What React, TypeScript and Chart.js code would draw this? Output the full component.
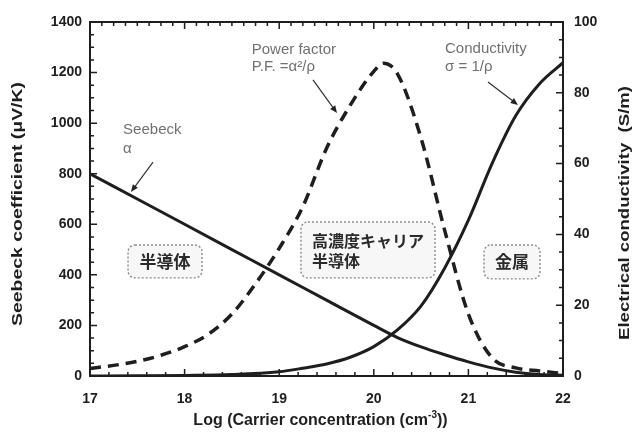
import React, { useEffect, useRef } from "react";
import { Chart, registerables } from "chart.js";

Chart.register(...registerables);

// ---- data ----
const xTicks = [17, 18, 19, 20, 21, 22];
const seebeckTicks = [0, 200, 400, 600, 800, 1000, 1200, 1400];
const conductivityTicks = [0, 20, 40, 60, 80, 100];

const seebeckX = [17, 17.5, 18, 18.5, 19, 19.5, 20, 20.25, 20.5, 20.75, 21, 21.25, 21.5, 21.75, 22];
const seebeckY = [800, 700, 600, 500, 400, 300, 200, 152, 115, 84, 56, 32, 15, 6, 3];

const powerFactorX = [17, 17.25, 17.5, 17.75, 18, 18.25, 18.5, 18.75, 19, 19.25, 19.5, 19.75, 20, 20.1, 20.25, 20.5, 20.75, 21, 21.25, 21.5, 21.75, 22];
const powerFactorY = [30, 42, 58, 82, 116, 165, 245, 365, 505, 670, 900, 1070, 1205, 1237, 1195, 940, 575, 245, 72, 32, 20, 10];

const conductivityX = [17, 17.5, 18, 18.5, 19, 19.25, 19.5, 19.75, 20, 20.25, 20.5, 20.75, 21, 21.25, 21.5, 21.75, 22];
const conductivityY = [0, 0.05, 0.15, 0.4, 1.2, 2.2, 3.4, 5.3, 8.3, 13, 19.8, 30.5, 44, 60, 73.5, 82.5, 88.5];

const leftTitle = "Seebeck coefficient (μV/K)";
const rightTitle = "Electrical conductivity  (S/m)";
const xTitleMain = "Log (Carrier concentration (cm";
const xTitleSup = "-3";
const xTitleEnd = "))";

const boxLabels = ["半導体", "高濃度キャリア", "半導体", "金属"];

const INK = "#1e1e1e";
const GRAY = "#707070";
const SANS = "'Liberation Sans', Arial, sans-serif";
const CJK = "'Noto Sans CJK JP', sans-serif";

function toPts(xs: number[], ys: number[]) {
  return xs.map((x, i) => ({ x, y: ys[i] }));
}

function arrow(ctx: CanvasRenderingContext2D, x1: number, y1: number, x2: number, y2: number) {
  const ang = Math.atan2(y2 - y1, x2 - x1);
  const head = 8;
  ctx.save();
  ctx.strokeStyle = "#333";
  ctx.fillStyle = "#222";
  ctx.lineWidth = 1.2;
  ctx.beginPath();
  ctx.moveTo(x1, y1);
  ctx.lineTo(x2 - Math.cos(ang) * head * 0.8, y2 - Math.sin(ang) * head * 0.8);
  ctx.stroke();
  ctx.beginPath();
  ctx.moveTo(x2, y2);
  ctx.lineTo(x2 - head * Math.cos(ang - 0.4), y2 - head * Math.sin(ang - 0.4));
  ctx.lineTo(x2 - head * Math.cos(ang + 0.4), y2 - head * Math.sin(ang + 0.4));
  ctx.closePath();
  ctx.fill();
  ctx.restore();
}

function roundBox(ctx: CanvasRenderingContext2D, x1: number, y1: number, x2: number, y2: number) {
  const r = 7;
  ctx.save();
  ctx.beginPath();
  ctx.roundRect(x1, y1, x2 - x1, y2 - y1, r);
  ctx.fillStyle = "#f7f7f7";
  ctx.fill();
  ctx.setLineDash([2, 2]);
  ctx.lineWidth = 1.4;
  ctx.strokeStyle = "#8a8a8a";
  ctx.stroke();
  ctx.restore();
}

const decorPlugin = {
  id: "decor",
  afterDatasetsDraw(chart: any) {
    const ctx: CanvasRenderingContext2D = chart.ctx;
    const xs = chart.scales.x;
    const ys = chart.scales.y;
    const X = (v: number) => xs.getPixelForValue(v);
    const Y = (v: number) => ys.getPixelForValue(v);

    // annotation labels
    ctx.save();
    ctx.fillStyle = GRAY;
    ctx.font = `15px ${SANS}`;
    ctx.textAlign = "left";
    ctx.textBaseline = "middle";
    ctx.fillText("Seebeck", X(17.35), Y(973));
    ctx.fillText("α", X(17.35), Y(898));
    ctx.fillText("Power factor", X(18.71), Y(1289));
    ctx.fillText("P.F. =α²/ρ", X(18.71), Y(1222));
    ctx.fillText("Conductivity", X(20.753), Y(1293));
    ctx.fillText("σ = 1/ρ", X(20.753), Y(1222));
    ctx.restore();

    arrow(ctx, X(17.666), Y(846), X(17.433), Y(728));
    arrow(ctx, X(19.357), Y(1171), X(19.611), Y(1040));
    arrow(ctx, X(21.207), Y(1163), X(21.524), Y(1072));

    // region boxes
    roundBox(ctx, X(17.402), Y(518), X(18.184), Y(388));
    roundBox(ctx, X(19.23), Y(609), X(20.647), Y(388));
    roundBox(ctx, X(21.165), Y(518), X(21.757), Y(384));
    ctx.save();
    ctx.fillStyle = "#2a2a2a";
    ctx.textBaseline = "middle";
    ctx.textAlign = "center";
    ctx.font = `bold 17px ${CJK}`;
    ctx.fillText(boxLabels[0], (X(17.402) + X(18.184)) / 2, (Y(518) + Y(388)) / 2);
    ctx.fillText(boxLabels[3], (X(21.165) + X(21.757)) / 2, (Y(518) + Y(384)) / 2);
    ctx.font = `bold 16px ${CJK}`;
    ctx.textAlign = "left";
    ctx.fillText(boxLabels[1], X(19.23) + 11, Y(609) + 19);
    ctx.fillText(boxLabels[2], X(19.23) + 11, Y(609) + 39);
    ctx.restore();
  },
  afterDraw(chart: any) {
    const ctx: CanvasRenderingContext2D = chart.ctx;
    const { left, right, top, bottom } = chart.chartArea;
    const xs = chart.scales.x;
    const ys = chart.scales.y;
    const y2 = chart.scales.y2;

    ctx.save();
    ctx.strokeStyle = INK;
    ctx.lineWidth = 1.5;
    // inward ticks
    ctx.beginPath();
    for (let i = 0; i <= 25; i++) {
      const v = 17 + i * 0.2;
      const px = xs.getPixelForValue(v);
      const len = i % 5 === 0 ? 7 : 4;
      ctx.moveTo(px, bottom);
      ctx.lineTo(px, bottom - len);
    }
    for (let i = 0; i <= 40; i++) {
      const v = 17 + i * 0.125;
      const px = xs.getPixelForValue(v);
      const len = i % 8 === 0 ? 7 : 4;
      ctx.moveTo(px, top);
      ctx.lineTo(px, top + len);
    }
    for (let i = 0; i <= 28; i++) {
      const v = i * 50;
      const py = ys.getPixelForValue(v);
      const len = i % 4 === 0 ? 7 : 4;
      ctx.moveTo(left, py);
      ctx.lineTo(left + len, py);
    }
    for (let i = 0; i <= 20; i++) {
      const v = i * 5;
      const py = y2.getPixelForValue(v);
      const len = i % 4 === 0 ? 7 : 4;
      ctx.moveTo(right, py);
      ctx.lineTo(right - len, py);
    }
    ctx.stroke();
    // frame
    ctx.lineWidth = 2;
    ctx.strokeRect(left, top, right - left, bottom - top);

    // axis titles
    ctx.fillStyle = INK;
    ctx.font = `bold 15px ${SANS}`;
    ctx.textBaseline = "middle";
    ctx.textAlign = "center";

    const drawVertical = (text: string, cx: number, cy: number, targetLen: number) => {
      ctx.save();
      ctx.translate(cx, cy);
      ctx.rotate(-Math.PI / 2);
      const w = ctx.measureText(text).width;
      ctx.scale(targetLen / w, 1);
      ctx.fillText(text, 0, 0);
      ctx.restore();
    };
    drawVertical(leftTitle, 18, 204, 244);
    drawVertical(rightTitle, 625, 213, 254);

    // x title with superscript
    ctx.textAlign = "left";
    ctx.font = `bold 16px ${SANS}`;
    const w1 = ctx.measureText(xTitleMain).width;
    ctx.font = `bold 10px ${SANS}`;
    const w2 = ctx.measureText(xTitleSup).width;
    ctx.font = `bold 16px ${SANS}`;
    const w3 = ctx.measureText(xTitleEnd).width;
    const total = w1 + w2 + w3;
    const cx = (left + right) / 2 - 6;
    const x0 = cx - total / 2;
    const ty = 421;
    ctx.fillText(xTitleMain, x0, ty);
    ctx.font = `bold 10px ${SANS}`;
    ctx.fillText(xTitleSup, x0 + w1, ty - 6);
    ctx.font = `bold 16px ${SANS}`;
    ctx.fillText(xTitleEnd, x0 + w1 + w2, ty);
    ctx.restore();
  },
};

export default function App() {
  const ref = useRef<HTMLCanvasElement | null>(null);

  useEffect(() => {
    document.body.style.margin = "0";
    const canvas = ref.current;
    if (!canvas) return;
    const tickFont = { family: SANS, size: 14, weight: "bold" as const };
    const plain = (v: any) => String(v);
    const chart = new Chart(canvas, {
      type: "line",
      data: {
        datasets: [
          {
            label: "Seebeck",
            data: toPts(seebeckX, seebeckY),
            borderColor: INK,
            borderWidth: 3,
            pointRadius: 0,
            cubicInterpolationMode: "monotone",
            yAxisID: "y",
          },
          {
            label: "Power factor",
            data: toPts(powerFactorX, powerFactorY),
            borderColor: INK,
            borderWidth: 3.5,
            borderDash: [11, 7],
            pointRadius: 0,
            cubicInterpolationMode: "monotone",
            yAxisID: "y",
          },
          {
            label: "Conductivity",
            data: toPts(conductivityX, conductivityY),
            borderColor: INK,
            borderWidth: 3,
            pointRadius: 0,
            cubicInterpolationMode: "monotone",
            yAxisID: "y2",
          },
        ],
      },
      options: {
        responsive: false,
        animation: false,
        devicePixelRatio: 1,
        layout: { padding: { top: 22, left: 0, right: 0, bottom: 0 } },
        plugins: { legend: { display: false }, tooltip: { enabled: false } },
        scales: {
          x: {
            type: "linear",
            min: 17,
            max: 22,
            afterBuildTicks: (s: any) => {
              s.ticks = xTicks.map((v) => ({ value: v }));
            },
            afterFit: (s: any) => {
              s.height = 59;
            },
            ticks: { font: tickFont, color: INK, padding: 15, maxRotation: 0, callback: plain },
            grid: { display: false, drawTicks: false },
            border: { display: false },
          },
          y: {
            position: "left",
            min: 0,
            max: 1400,
            afterBuildTicks: (s: any) => {
              s.ticks = seebeckTicks.map((v) => ({ value: v }));
            },
            afterFit: (s: any) => {
              s.width = 90;
            },
            ticks: { font: tickFont, color: INK, padding: 8, callback: plain },
            grid: { display: false, drawTicks: false },
            border: { display: false },
          },
          y2: {
            position: "right",
            min: 0,
            max: 100,
            afterBuildTicks: (s: any) => {
              s.ticks = conductivityTicks.map((v) => ({ value: v }));
            },
            afterFit: (s: any) => {
              s.width = 78;
            },
            ticks: { font: tickFont, color: INK, padding: 11, callback: plain },
            grid: { display: false, drawTicks: false },
            border: { display: false },
          },
        },
      },
      plugins: [decorPlugin],
    });
    return () => chart.destroy();
  }, []);

  return (
    <div style={{ width: 641, height: 435, background: "#fff", overflow: "hidden" }}>
      <canvas ref={ref} width={641} height={435} style={{ display: "block" }} />
    </div>
  );
}
